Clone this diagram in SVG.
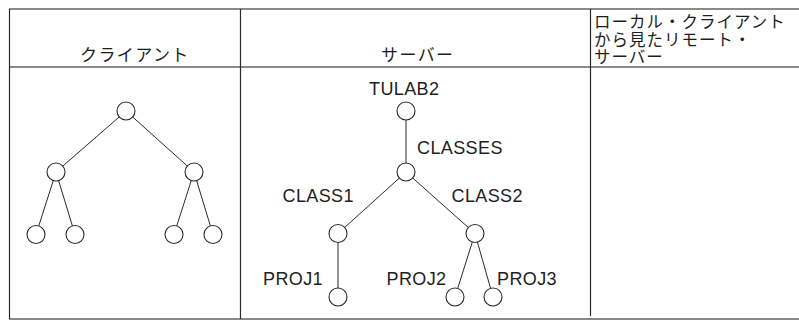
<svg xmlns="http://www.w3.org/2000/svg" width="799" height="320" viewBox="0 0 799 320">
  <style>
    .hrule { stroke: #8a8a8a; stroke-width: 2; }
    .vrule { stroke: #2a2a2a; stroke-width: 1.2; }
    .edge { stroke: #2a2a2a; stroke-width: 1; fill: none; }
    .node circle { fill: #ffffff; stroke: #2a2a2a; stroke-width: 1.1; }
    .lbl { font-family: "Liberation Sans", Arial, sans-serif; font-size: 18px; fill: #1e1e1e; letter-spacing: 0.4px; }
    .hdr { font-family: "Noto Sans CJK JP", "Noto Sans CJK SC", sans-serif; font-size: 17px; fill: #1e1e1e; }
    .hdr2 { font-family: "Noto Sans CJK JP", "Noto Sans CJK SC", sans-serif; font-size: 16.5px; fill: #1e1e1e; letter-spacing: 1px; }
  </style>

  <rect width="799" height="320" fill="#ffffff"/>

  <!-- table frame -->
  <g id="table">
    <line class="hrule" x1="9" y1="9" x2="799" y2="9"/>
    <line class="hrule" x1="9" y1="67" x2="799" y2="67"/>
    <line class="hrule" x1="9" y1="319" x2="799" y2="319"/>
    <line class="vrule" x1="9.5" y1="9" x2="9.5" y2="319"/>
    <line class="vrule" x1="240.5" y1="9" x2="240.5" y2="319"/>
    <line class="vrule" x1="590.5" y1="9" x2="590.5" y2="316"/>
  </g>

  <!-- column headings -->
  <g id="headings">
    <text class="hdr" x="80" y="61" letter-spacing="1.4">クライアント</text>
    <text class="hdr" x="381" y="61" letter-spacing="1.4">サーバー</text>
    <text class="hdr2" x="594" y="27.5">ローカル・クライアント</text>
    <text class="hdr2" x="594" y="45.5">から見たリモート・</text>
    <text class="hdr2" x="594" y="63">サーバー</text>
  </g>

  <!-- connectors (drawn center to center, circles cover the ends) -->
  <g id="connectors">
    <!-- client tree -->
    <line class="edge" x1="126" y1="111" x2="56" y2="172"/>
    <line class="edge" x1="126" y1="111" x2="194" y2="172"/>
    <line class="edge" x1="56" y1="172" x2="36" y2="234.5"/>
    <line class="edge" x1="56" y1="172" x2="75" y2="234.5"/>
    <line class="edge" x1="194" y1="172" x2="174" y2="234.5"/>
    <line class="edge" x1="194" y1="172" x2="213" y2="234.5"/>
    <!-- server tree -->
    <line class="edge" x1="406" y1="111" x2="406" y2="172"/>
    <line class="edge" x1="406" y1="172" x2="338" y2="233.5"/>
    <line class="edge" x1="406" y1="172" x2="475" y2="233.5"/>
    <line class="edge" x1="338" y1="233.5" x2="338" y2="297"/>
    <line class="edge" x1="475" y1="233.5" x2="455" y2="297"/>
    <line class="edge" x1="475" y1="233.5" x2="493" y2="297"/>
  </g>

  <!-- client tree nodes -->
  <g id="client-root" class="node"><circle cx="126" cy="111" r="9"/></g>
  <g id="client-left" class="node"><circle cx="56" cy="172" r="9"/></g>
  <g id="client-right" class="node"><circle cx="194" cy="172" r="9"/></g>
  <g id="client-leaf1" class="node"><circle cx="36" cy="234.5" r="9"/></g>
  <g id="client-leaf2" class="node"><circle cx="75" cy="234.5" r="9"/></g>
  <g id="client-leaf3" class="node"><circle cx="174" cy="234.5" r="9"/></g>
  <g id="client-leaf4" class="node"><circle cx="213" cy="234.5" r="9"/></g>

  <!-- server tree nodes -->
  <g id="tulab2" class="node">
    <text class="lbl" x="369" y="95">TULAB2</text>
    <circle cx="406" cy="111" r="9"/>
  </g>
  <g id="classes" class="node">
    <text class="lbl" x="417" y="153.5">CLASSES</text>
    <circle cx="406" cy="172" r="9"/>
  </g>
  <g id="class1" class="node">
    <text class="lbl" x="282.5" y="202">CLASS1</text>
    <circle cx="338" cy="233.5" r="9"/>
  </g>
  <g id="class2" class="node">
    <text class="lbl" x="451.5" y="202">CLASS2</text>
    <circle cx="475" cy="233.5" r="9"/>
  </g>
  <g id="proj1" class="node">
    <text class="lbl" x="263" y="284.5">PROJ1</text>
    <circle cx="338" cy="297" r="9"/>
  </g>
  <g id="proj2" class="node">
    <text class="lbl" x="386.5" y="284.5">PROJ2</text>
    <circle cx="455" cy="297" r="9"/>
  </g>
  <g id="proj3" class="node">
    <text class="lbl" x="497" y="284.5">PROJ3</text>
    <circle cx="493" cy="297" r="9"/>
  </g>
</svg>
